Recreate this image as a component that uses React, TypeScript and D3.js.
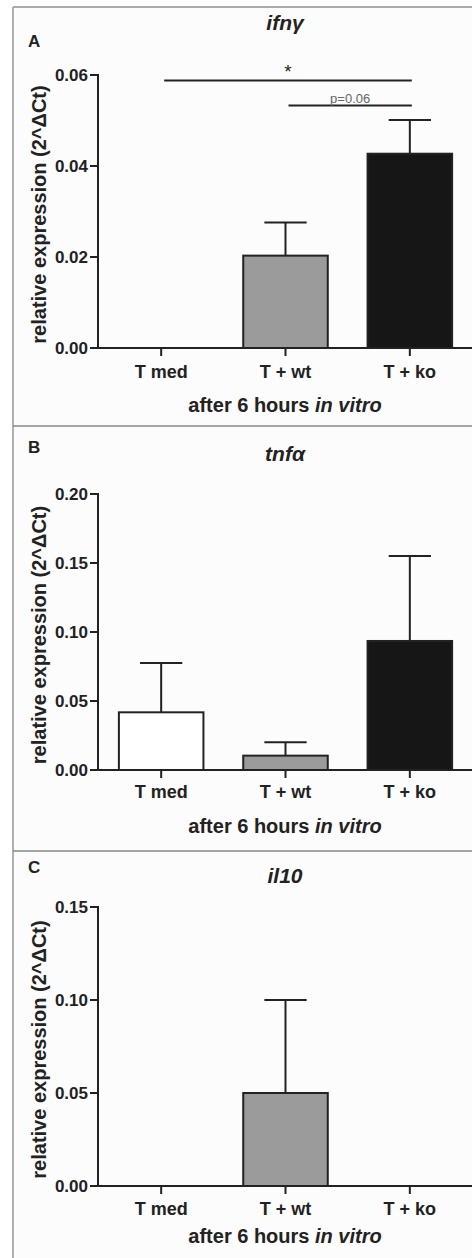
import React from "react";
import { scaleBand, scaleLinear } from "d3";

const groups = ["T med", "T + wt", "T + ko"];

const ifngMean = [0, 0.0203, 0.0427];
const ifngErr = [0, 0.0073, 0.0074];
const ifngTicks = [0, 0.02, 0.04, 0.06];

const tnfaMean = [0.0418, 0.0104, 0.0935];
const tnfaErr = [0.0357, 0.0097, 0.0615];
const tnfaTicks = [0, 0.05, 0.1, 0.15, 0.2];

const il10Mean = [0, 0.05, 0];
const il10Err = [0, 0.05, 0];
const il10Ticks = [0, 0.05, 0.1, 0.15];

const barFills = ["#ffffff", "#9b9b9b", "#161616"];

const W = 472;
const H = 1258;
const FONT = "'Liberation Sans', Arial, sans-serif";
const axisX = 98;

const x = scaleBand<string>()
  .domain(groups)
  .range([axisX + 1, W])
  .paddingInner(0.32)
  .paddingOuter(0.16);

const panels = [
  {
    letter: "A", title: "ifn", greek: "γ", mean: ifngMean, err: ifngErr, ticks: ifngTicks,
    top: 7, letterY: 47, titleY: 30, yMin: 348, yMax: 75, tickY: 378, xTitleY: 412,
    sig: [
      { from: 0, to: 2, value: 0.0588, label: "*" },
      { from: 1, to: 2, value: 0.0533, label: "p=0.06" },
    ],
  },
  {
    letter: "B", title: "tnf", greek: "α", mean: tnfaMean, err: tnfaErr, ticks: tnfaTicks,
    top: 426, letterY: 453, titleY: 461, yMin: 770, yMax: 494, tickY: 798, xTitleY: 833,
    sig: [],
  },
  {
    letter: "C", title: "il10", greek: "", mean: il10Mean, err: il10Err, ticks: il10Ticks,
    top: 851, letterY: 873, titleY: 883, yMin: 1186, yMax: 907, tickY: 1215, xTitleY: 1243,
    sig: [],
  },
];

const Panel = ({ p }: { p: (typeof panels)[number] }) => {
  const top = p.ticks[p.ticks.length - 1];
  const y = scaleLinear().domain([0, top]).range([p.yMin, p.yMax]);
  const bw = x.bandwidth();
  const cx = (g: string) => (x(g) as number) + bw / 2;
  const stroke = "#222";
  return (
    <g>
      <text x={28} y={p.letterY} fontSize={17} fontWeight="bold" fill="#222" fontFamily={FONT}>
        {p.letter}
      </text>
      <text x={285} y={p.titleY} textAnchor="middle" fontSize={21} fontWeight="bold"
        fontStyle="italic" fill="#222" fontFamily={FONT}>
        {p.title}
        {p.greek && <tspan fontWeight="900">{p.greek}</tspan>}
      </text>

      {/* y axis label */}
      <text transform={`translate(46,${(p.yMin + p.yMax) / 2 + 3}) rotate(-90)`}
        textAnchor="middle" fontSize={20} fontWeight="bold" fill="#222" fontFamily={FONT}>
        relative expression (2^ΔCt)
      </text>

      {/* bars */}
      {groups.map((g, i) =>
        p.mean[i] > 0 ? (
          <g key={g}>
            <line x1={cx(g)} x2={cx(g)} y1={y(p.mean[i])} y2={y(p.mean[i] + p.err[i])}
              stroke={stroke} strokeWidth={2} />
            <line x1={cx(g) - bw / 4} x2={cx(g) + bw / 4} y1={y(p.mean[i] + p.err[i])}
              y2={y(p.mean[i] + p.err[i])} stroke={stroke} strokeWidth={2} />
            <rect x={x(g)} y={y(p.mean[i])} width={bw} height={y(0) - y(p.mean[i])}
              fill={barFills[i]} stroke={stroke} strokeWidth={2} />
          </g>
        ) : null
      )}

      {/* y axis */}
      <line x1={axisX} x2={axisX} y1={y(top) - 1} y2={y(0)} stroke={stroke} strokeWidth={2} />
      {p.ticks.map((t) => (
        <g key={t}>
          <line x1={axisX - 8} x2={axisX} y1={y(t)} y2={y(t)} stroke={stroke} strokeWidth={2} />
          <text x={axisX - 10} y={y(t) + 6} textAnchor="end" fontSize={17} fontWeight="bold"
            fill="#222" fontFamily={FONT}>
            {t.toFixed(2)}
          </text>
        </g>
      ))}

      {/* x axis */}
      <line x1={axisX - 8} x2={W} y1={y(0)} y2={y(0)} stroke={stroke} strokeWidth={2} />
      {groups.map((g) => (
        <g key={g}>
          <line x1={cx(g)} x2={cx(g)} y1={y(0)} y2={y(0) + 8} stroke={stroke} strokeWidth={2} />
          <text x={cx(g)} y={p.tickY} textAnchor="middle" fontSize={18} fontWeight="bold"
            fill="#222" fontFamily={FONT}>
            {g}
          </text>
        </g>
      ))}
      <text x={285} y={p.xTitleY} textAnchor="middle" fontSize={20} fontWeight="bold"
        fill="#222" fontFamily={FONT}>
        after 6 hours <tspan fontStyle="italic">in vitro</tspan>
      </text>

      {/* significance lines */}
      {p.sig.map((s) => {
        const x1 = cx(groups[s.from]) + 3;
        const x2 = cx(groups[s.to]) + 2;
        const yy = y(s.value);
        const star = s.label === "*";
        return (
          <g key={s.label}>
            <line x1={x1} x2={x2} y1={yy} y2={yy} stroke={stroke} strokeWidth={2} />
            <text x={(x1 + x2) / 2} y={star ? yy - 2 : yy - 2} textAnchor="middle"
              fontSize={star ? 19 : 13} fill={star ? "#222" : "#666"} fontFamily={FONT}>
              {s.label}
            </text>
          </g>
        );
      })}
    </g>
  );
};

const App = () => (
  <svg width={W} height={H} style={{ position: "absolute", left: 0, top: 0 }}>
    <rect width={W} height={H} fill="#ffffff" />
    <rect x={13} y={7} width={W - 13} height={H - 7} fill="#fcfcfc" />
    <line x1={13} x2={W} y1={7} y2={7} stroke="#aaa" strokeWidth={2} />
    <line x1={13} x2={13} y1={7} y2={H} stroke="#999" strokeWidth={1.5} />
    <line x1={13} x2={W} y1={426} y2={426} stroke="#888" strokeWidth={1.5} />
    <line x1={13} x2={W} y1={851} y2={851} stroke="#888" strokeWidth={1.5} />
    {panels.map((p) => (
      <Panel key={p.letter} p={p} />
    ))}
  </svg>
);

export default App;
